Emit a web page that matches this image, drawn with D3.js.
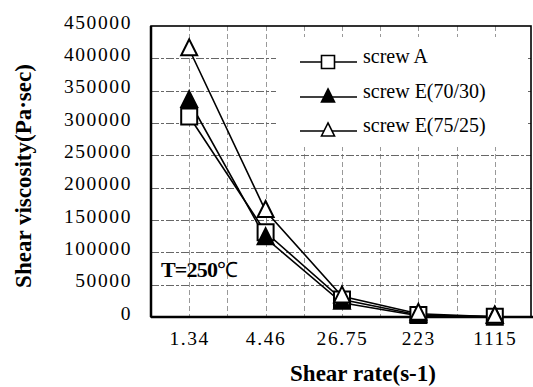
<!DOCTYPE html>
<html><head><meta charset="utf-8">
<script src="https://cdn.jsdelivr.net/npm/d3@7"></script>
<style>
html,body{margin:0;padding:0;background:#fff;}
</style></head>
<body>
<svg id="chart" width="533" height="387" font-family="Times New Roman"></svg>
<script>
const categories = ["1.34", "4.46", "26.75", "223", "1115"];
const screwA = [310000, 131000, 27000, 3000, 500];
const screwE7030 = [334000, 122000, 22000, 2000, 500];
const screwE7525 = [414000, 164000, 32000, 5000, 500];
const yTicks = [0, 50000, 100000, 150000, 200000, 250000, 300000, 350000, 400000, 450000];
const seriesNames = ["screw A", "screw E(70/30)", "screw E(75/25)"];

const FONT = "Times New Roman";
const svg = d3.select("#chart");
const L = 151, R = 531, T = 26, B = 317;

const x = d3.scalePoint().domain(categories).range([L, 533]).padding(0.5);
const y = d3.scaleLinear().domain([0, 450000]).range([B, T]);
const step = x.step();

const vx = [];
categories.forEach((c) => { vx.push(x(c)); vx.push(x(c) + step / 2); });
svg.append("g").selectAll("line").data(vx.filter(v => v < R - 2)).join("line")
  .attr("x1", d => Math.round(d) + 0.5).attr("x2", d => Math.round(d) + 0.5).attr("y1", T).attr("y2", B)
  .attr("stroke", "#999").attr("stroke-width", 1).attr("stroke-dasharray", "5,3");

svg.append("g").selectAll("line").data(yTicks.filter(v => v > 0 && v < 450000)).join("line")
  .attr("x1", L).attr("x2", R).attr("y1", d => Math.round(y(d)) + 0.5).attr("y2", d => Math.round(y(d)) + 0.5)
  .attr("stroke", "#666").attr("stroke-width", 1).attr("stroke-dasharray", "8,2,3,2");

const yAxis = d3.axisLeft(y).tickValues(yTicks).tickSize(0).tickPadding(0).tickFormat(d3.format("d"));
const gy = svg.append("g").attr("transform", `translate(${L - 19},-4)`).call(yAxis);
gy.attr("font-family", FONT).attr("font-size", 19.5);
gy.select(".domain").remove();
gy.selectAll("text").attr("letter-spacing", 1.6).attr("fill", "#000");

const xAxis = d3.axisBottom(x).tickSize(0).tickPadding(0);
const gx = svg.append("g").attr("transform", `translate(0,${B + 34})`).call(xAxis);
gx.attr("font-family", FONT).attr("font-size", 19.5);
gx.select(".domain").remove();
gx.selectAll("text").attr("letter-spacing", 1.6).attr("fill", "#000").attr("dy", "-0.3em");

svg.append("rect").attr("x", 276).attr("y", 37).attr("width", 252).attr("height", 110).attr("fill", "#fff");

svg.append("rect").attr("x", L).attr("y", T).attr("width", R - L).attr("height", B - T)
  .attr("fill", "none").attr("stroke", "#000").attr("stroke-width", 1.6);
svg.append("line").attr("x1", L).attr("x2", L).attr("y1", T).attr("y2", B).attr("stroke", "#000").attr("stroke-width", 2.5);
svg.append("line").attr("x1", L).attr("x2", 533).attr("y1", B).attr("y2", B).attr("stroke", "#000").attr("stroke-width", 2.5);

const tl = svg.append("text").attr("x", 161).attr("y", 277).attr("font-family", FONT)
  .attr("font-size", 22).attr("font-weight", "bold").attr("letter-spacing", -0.8).text("T=250");
tl.append("tspan").attr("font-weight", "normal").attr("font-size", 21).text("℃");

const seriesData = [screwA, screwE7030, screwE7525];
const line = d3.line().x((d, i) => x(categories[i])).y(d => y(d));
const sq = s => `M${-s/2},${-s/2}h${s}v${s}h${-s}Z`;
const tri = s => `M0,${-s*0.62}L${s/2},${s*0.38}L${-s/2},${s*0.38}Z`;
const markers = [
  {path: sq, fill: "#fff"},
  {path: tri, fill: "#000"},
  {path: tri, fill: "#fff"}
];

seriesData.forEach((vals) => {
  svg.append("path").datum(vals).attr("d", line).attr("fill", "none")
    .attr("stroke", "#000").attr("stroke-width", 1.6);
});
seriesData.forEach((vals, k) => {
  svg.append("g").selectAll("path").data(vals).join("path")
    .attr("transform", (d, i) => `translate(${x(categories[i])},${y(d)})`)
    .attr("d", markers[k].path(16)).attr("fill", markers[k].fill)
    .attr("stroke", "#000").attr("stroke-width", 2);
});

const ly = [62, 97, 131];
seriesNames.forEach((name, k) => {
  const g = svg.append("g").attr("transform", `translate(0,${ly[k]})`);
  g.append("line").attr("x1", 300).attr("x2", 357).attr("y1", 0).attr("y2", 0).attr("stroke", "#000").attr("stroke-width", 1.6);
  g.append("path").attr("transform", "translate(328,0)").attr("d", markers[k].path(13))
    .attr("fill", markers[k].fill).attr("stroke", "#000").attr("stroke-width", 1.6);
  g.append("text").attr("x", 363).attr("y", 1).attr("font-family", FONT).attr("font-size", 20)
    .attr("fill", "#000").text(name);
});

svg.append("text").attr("x", 363).attr("y", 381).attr("text-anchor", "middle").attr("font-family", FONT)
  .attr("font-size", 23).attr("font-weight", "bold").text("Shear rate(s-1)");
svg.append("text").attr("transform", "translate(31,176) rotate(-90)").attr("text-anchor", "middle")
  .attr("font-family", FONT).attr("font-size", 23).attr("font-weight", "bold").text("Shear viscosity(Pa·sec)");
</script>
</body></html>
